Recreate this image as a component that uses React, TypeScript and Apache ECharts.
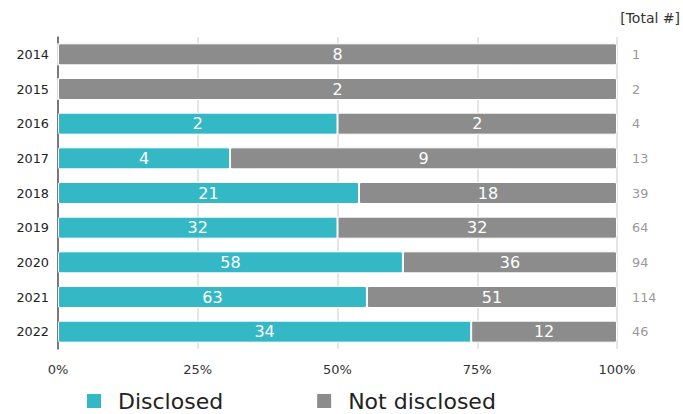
import React, { useEffect, useRef } from "react";
import * as echarts from "echarts";

const years = ["2014", "2015", "2016", "2017", "2018", "2019", "2020", "2021", "2022"];
const disclosed = [0, 0, 2, 4, 21, 32, 58, 63, 34];
const notDisclosed = [8, 2, 2, 9, 18, 32, 36, 51, 12];
const totals = [1, 2, 4, 13, 39, 64, 94, 114, 46];
const xTicks = [0, 25, 50, 75, 100];

const FONT = "DejaVu Sans";

export default function App() {
  const ref = useRef<HTMLDivElement>(null);
  useEffect(() => {
    if (!ref.current) return;
    const chart = echarts.init(ref.current, null, { renderer: "svg" });
    const pct = (arr: number[]) =>
      arr.map((v, i) => {
        const s = disclosed[i] + notDisclosed[i];
        return { value: s ? (v / s) * 100 : 0, raw: v };
      });
    const labelCfg = {
      show: true,
      position: "inside" as const,
      color: "#fff",
      fontSize: 16,
      fontFamily: FONT,
      formatter: (p: any) => (p.data.raw ? String(p.data.raw) : ""),
    };
    chart.setOption({
      animation: false,
      textStyle: { fontFamily: FONT },
      grid: { left: 58, right: 66, top: 37, bottom: 65 },
      xAxis: {
        type: "value",
        min: 0,
        max: 100,
        interval: 25,
        axisLabel: {
          formatter: (v: number) => (xTicks.includes(v) ? v + "%" : ""),
          color: "#333",
          fontSize: 13,
          fontFamily: FONT,
          margin: 14,
        },
        axisLine: { show: false },
        axisTick: { show: false },
        splitLine: { show: true, lineStyle: { color: "#dcdcdc", width: 1.5 } },
      },
      yAxis: [
        {
          type: "category",
          data: years,
          inverse: true,
          axisLine: { show: true, lineStyle: { color: "#555", width: 1.5 } },
          axisTick: { show: false },
          axisLabel: { color: "#222", fontSize: 12.8, fontFamily: FONT, margin: 9 },
        },
        {
          type: "category",
          data: totals.map(String),
          inverse: true,
          position: "right",
          axisLine: { show: false },
          axisTick: { show: false },
          axisLabel: { color: "#999", fontSize: 12.8, fontFamily: FONT, margin: 15, align: "left" },
        },
      ],
      legend: {
        bottom: 2,
        left: 85,
        padding: 0,
        icon: "rect",
        itemWidth: 16,
        itemHeight: 16,
        itemGap: 92,
        textStyle: { fontSize: 22, color: "#222", fontFamily: FONT, padding: [0, 0, 0, 11] },
        data: ["Disclosed", "Not disclosed"],
      },
      graphic: [
        {
          type: "text",
          right: 3,
          top: 11,
          style: { text: "[Total #]", fontSize: 14, fill: "#333", fontFamily: FONT },
        },
      ],
      series: [
        {
          name: "Disclosed",
          type: "bar",
          stack: "t",
          barWidth: 22,
          data: pct(disclosed),
          itemStyle: { color: "#35B8C6", borderColor: "#fff", borderWidth: 1, borderRadius: 1.5 },
          label: labelCfg,
        },
        {
          name: "Not disclosed",
          type: "bar",
          stack: "t",
          barWidth: 22,
          data: pct(notDisclosed),
          itemStyle: { color: "#8C8C8C", borderColor: "#fff", borderWidth: 1, borderRadius: 1.5 },
          label: labelCfg,
        },
      ],
    });
    return () => chart.dispose();
  }, []);
  return <div ref={ref} style={{ width: 683, height: 414, position: "absolute", left: 0, top: 0 }} />;
}
